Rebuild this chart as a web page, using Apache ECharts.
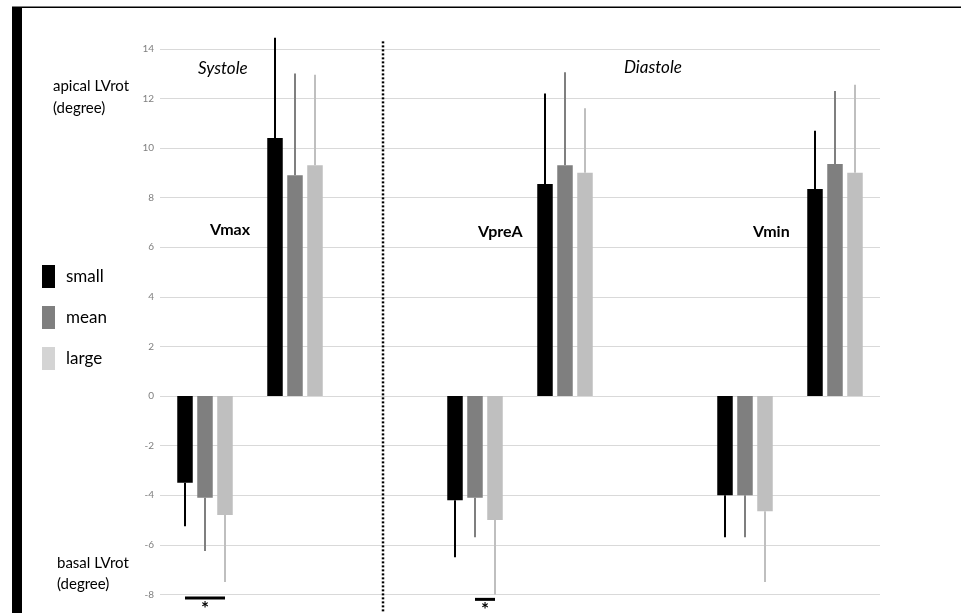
<!DOCTYPE html>
<html>
<head>
<meta charset="utf-8">
<script src="https://cdn.jsdelivr.net/npm/echarts@6/dist/echarts.min.js"></script>
<style>
html,body{margin:0;padding:0;background:#fff;}
#chart{width:961px;height:613px;}
</style>
</head>
<body>
<div id="chart"></div>
<script>
// ---- data ----
var categories = ['Vmax basal', 'Vmax apical', '', 'VpreA basal', 'VpreA apical', '', 'Vmin basal', 'Vmin apical'];
var seriesNames = ['small', 'mean', 'large'];
var smallValues = [-3.5, 10.4, null, -4.2, 8.55, null, -4.0, 8.35];
var meanValues  = [-4.1, 8.9, null, -4.1, 9.3, null, -4.0, 9.35];
var largeValues = [-4.8, 9.3, null, -5.0, 9.0, null, -4.65, 9.0];
var smallErrEnd = [-5.25, 14.45, null, -6.5, 12.2, null, -5.7, 10.7];
var meanErrEnd  = [-6.25, 13.0, null, -5.7, 13.05, null, -5.7, 12.3];
var largeErrEnd = [-7.5, 12.95, null, -8.0, 11.6, null, -7.5, 12.55];
var yTicks = [-8, -6, -4, -2, 0, 2, 4, 6, 8, 10, 12, 14];
// significance marks: category index, y level, from series index, to series index
var sigCats = [0, 3];
var sigLevels = [-8.15, -8.2];
var sigFrom = [0, 1];
var sigTo = [2, 2];
// divider between systole and diastole (category index, top, bottom)
var dividerCat = 2;
var dividerTop = 14.3;
var dividerBottom = -8.8;

// ---- style ----
var colors = ['#000000', '#7f7f7f', '#bfbfbf'];
var legendColors = ['#000000', '#7f7f7f', '#d4d4d4'];
var BAR_W = 15.5;
var BAR_GAP_PX = 4.5;
var FONT = 'Lato, "Liberation Sans", sans-serif';

var values = [smallValues, meanValues, largeValues];
var errEnds = [smallErrEnd, meanErrEnd, largeErrEnd];

function offsetOf(i) { return (i - 1) * (BAR_W + BAR_GAP_PX); }

var series = [];
seriesNames.forEach(function (name, i) {
  series.push({
    name: name,
    type: 'bar',
    data: values[i],
    barWidth: BAR_W,
    barGap: (BAR_GAP_PX / BAR_W * 100).toFixed(1) + '%',
    itemStyle: { color: colors[i] },
    silent: true,
    z: 2
  });
});
seriesNames.forEach(function (name, i) {
  var d = [];
  for (var k = 0; k < categories.length; k++) {
    if (values[i][k] != null) d.push([k, errEnds[i][k], values[i][k]]);
  }
  series.push({
    type: 'custom',
    data: d,
    encode: { x: 0, y: 1 },
    silent: true,
    z: 3,
    renderItem: function (params, api) {
      var c = api.value(0);
      var p1 = api.coord([c, api.value(2)]);
      var p2 = api.coord([c, api.value(1)]);
      var x = p1[0] + offsetOf(i);
      return {
        type: 'line',
        shape: { x1: x, y1: p1[1], x2: x, y2: p2[1] },
        style: { stroke: colors[i], lineWidth: 2 }
      };
    }
  });
});
// significance marks
var sigData = sigCats.map(function (c, k) { return [c, sigLevels[k], sigFrom[k], sigTo[k]]; });
series.push({
  type: 'custom',
  data: sigData,
  encode: { x: 0, y: 1 },
  clip: false,
  silent: true,
  z: 4,
  renderItem: function (params, api) {
    var c = api.value(0);
    var p = api.coord([c, api.value(1)]);
    var xa = p[0] + offsetOf(api.value(2));
    var xb = p[0] + offsetOf(api.value(3));
    return {
      type: 'group',
      children: [
        { type: 'rect', shape: { x: xa, y: p[1] - 1.5, width: xb - xa, height: 3 }, style: { fill: '#000' } },
        { type: 'text', style: { text: '*', x: (xa + xb) / 2, y: p[1] + 1, align: 'center', verticalAlign: 'top', font: 'bold 19px ' + FONT, fill: '#000' } }
      ]
    };
  }
});
// divider
series.push({
  type: 'custom',
  data: [[dividerCat, dividerTop, dividerBottom]],
  encode: { x: 0, y: 1 },
  clip: false,
  silent: true,
  z: 1,
  renderItem: function (params, api) {
    var a = api.coord([api.value(0), api.value(1)]);
    var b = api.coord([api.value(0), api.value(2)]);
    return {
      type: 'line',
      shape: { x1: a[0] - 2, y1: a[1], x2: b[0] - 2, y2: b[1] },
      style: { stroke: '#000', lineWidth: 2.5, lineDash: [2, 2] }
    };
  }
});

var chart = echarts.init(document.getElementById('chart'), null, { renderer: 'canvas' });
chart.setOption({
  animation: false,
  backgroundColor: '#ffffff',
  grid: { left: 160, right: 81, top: 48.8, bottom: 18.6, containLabel: false },
  xAxis: {
    type: 'category',
    data: categories,
    axisLine: { show: false },
    axisTick: { show: false },
    axisLabel: { show: false },
    splitLine: { show: false }
  },
  yAxis: {
    type: 'value',
    min: yTicks[0],
    max: yTicks[yTicks.length - 1],
    interval: yTicks[1] - yTicks[0],
    axisLine: { show: false },
    axisTick: { show: false },
    axisLabel: { color: '#7f7f7f', fontSize: 10, fontFamily: FONT, margin: 6 },
    splitLine: { lineStyle: { color: '#d9d9d9', width: 1 } }
  },
  legend: {
    orient: 'vertical',
    left: 42,
    top: 265,
    padding: 0,
    itemWidth: 13,
    itemHeight: 23,
    itemGap: 18,
    icon: 'rect',
    selectedMode: false,
    textStyle: { fontSize: 17, fontFamily: FONT, color: '#000', padding: [0, 0, 0, 6] },
    data: seriesNames.map(function (n, i) { return { name: n, itemStyle: { color: legendColors[i] } }; })
  },
  graphic: [
    { type: 'rect', left: 12, top: 7, shape: { width: 10, height: 606 }, style: { fill: '#000' } },
    { type: 'rect', left: 12, top: 6.5, shape: { width: 949, height: 1.5 }, style: { fill: '#000' } },
    { type: 'text', left: 53, top: 75, style: { text: 'apical LVrot\n(degree)', font: '15px ' + FONT, fill: '#000', lineHeight: 22 } },
    { type: 'text', left: 57, top: 553, style: { text: 'basal LVrot\n(degree)', font: '15px ' + FONT, fill: '#000', lineHeight: 21 } },
    { type: 'text', left: 198, top: 60, style: { text: 'Systole', font: 'italic 17px ' + FONT, fill: '#000' } },
    { type: 'text', left: 624, top: 59, style: { text: 'Diastole', font: 'italic 17px ' + FONT, fill: '#000' } },
    { type: 'text', left: 210, top: 222, style: { text: 'Vmax', font: 'bold 16px ' + FONT, fill: '#000' } },
    { type: 'text', left: 478, top: 224, style: { text: 'VpreA', font: 'bold 16px ' + FONT, fill: '#000' } },
    { type: 'text', left: 753, top: 224, style: { text: 'Vmin', font: 'bold 16px ' + FONT, fill: '#000' } }
  ],
  series: series
});
</script>
</body>
</html>
